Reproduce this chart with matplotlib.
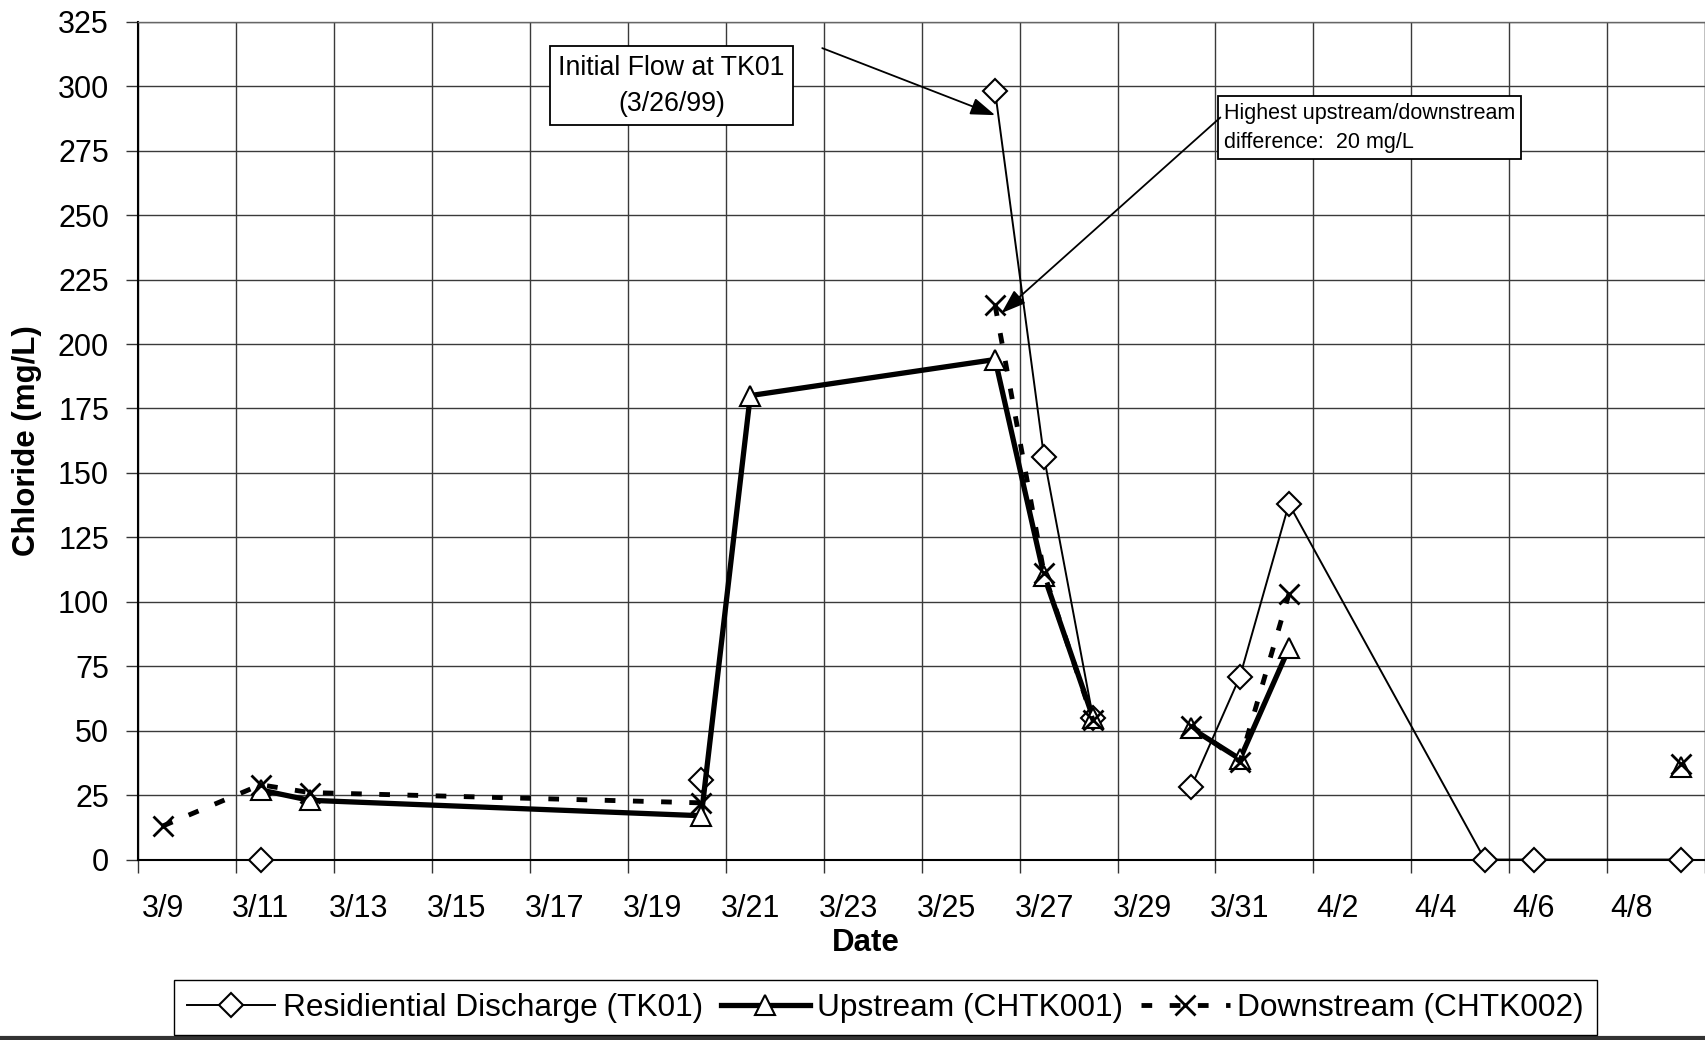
import numpy as np
import matplotlib.pyplot as plt
from matplotlib.lines import Line2D

plt.rcParams['font.family'] = ['Liberation Sans', 'DejaVu Sans']

# sampling dates (1999) and chloride results in mg/L, nan = no sample that day
dates = np.array(['1999-03-09', '1999-03-11', '1999-03-12', '1999-03-20', '1999-03-21',
                  '1999-03-26', '1999-03-27', '1999-03-28', '1999-03-29', '1999-03-30',
                  '1999-03-31', '1999-04-01', '1999-04-05', '1999-04-06', '1999-04-09'],
                 dtype='datetime64[D]')
nan = np.nan
tk01 = [nan, 0, nan, 31, nan, 298, 156, 55, nan, 28, 71, 138, 0, 0, 0]
upstream = [nan, 27, 23, 17, 180, 194, 110, 55, nan, 51, 39, 82, nan, nan, 36]
downstream = [13, 29, 26, 22, nan, 215, 111, 54, nan, 52, 38, 103, nan, nan, 37]

date_labels = ['3/9', '3/11', '3/13', '3/15', '3/17', '3/19', '3/21', '3/23',
               '3/25', '3/27', '3/29', '3/31', '4/2', '4/4', '4/6', '4/8']

start = np.datetime64('1999-03-09')
ndays = 32
x = (dates - start).astype(int) + 0.5   # each day is one slot, points sit mid-slot

fig = plt.figure(figsize=(17.06, 10.40), dpi=100)
ax = fig.add_axes([0.081, 0.1735, 0.9185, 0.8055])

ax.plot(x, tk01, color='black', lw=1.4, marker='D', ms=12.5, mfc='white',
        mec='black', mew=1.5, label='Residiential Discharge (TK01)', zorder=3,
        clip_on=False)
ax.plot(x, upstream, color='black', lw=3.8, marker='^', ms=15, mfc='white',
        mec='black', mew=1.5, label='Upstream (CHTK001)', zorder=4, clip_on=False)
ax.plot(x, downstream, color='black', lw=3.5, ls=(0, (2.2, 3.6)), marker='x', ms=15,
        mec='black', mew=2, label='Downstream (CHTK002)', zorder=5, clip_on=False)

ax.set_xlim(0, ndays)
ax.set_ylim(0, 325)
ax.set_yticks(np.arange(0, 326, 25))
ax.set_xticks(np.arange(0, ndays + 1, 2))
ax.set_xticklabels([])
ax.set_xticks(np.arange(0.5, ndays, 2), minor=True)
ax.set_xticklabels(date_labels, minor=True)
ax.tick_params(which='major', direction='out', length=9, width=1, color='#333333',
               labelsize=22, pad=12)
ax.tick_params(axis='x', which='minor', length=0, pad=25, labelsize=22)
ax.grid(True, which='major', color='#3a3a3a', lw=1)
ax.set_axisbelow(True)

for side in ['left', 'bottom']:
    ax.spines[side].set_linewidth(1.5)
for side in ['top', 'right']:
    ax.spines[side].set_color('#666666')
    ax.spines[side].set_linewidth(1)

fig.text(0.0158, 0.576, 'Chloride (mg/L)', rotation=90, ha='center', va='center',
         fontsize=22.5, fontweight='bold')
fig.text(0.5076, 0.093, 'Date', ha='center', va='center', fontsize=22.5,
         fontweight='bold')

# callouts
ax.text(10.89, 300.3, 'Initial Flow at TK01\n(3/26/99)', ha='center', va='center',
        fontsize=19.3, linespacing=1.5,
        bbox=dict(boxstyle='square,pad=0.3', fc='white', ec='black', lw=1.3), zorder=6)
ax.annotate('', xy=(17.5, 288.8), xytext=(13.97, 314.8),
            arrowprops=dict(arrowstyle='-|>,head_length=1.0,head_width=0.35',
                            mutation_scale=15, color='black', lw=1.3,
                            shrinkA=0, shrinkB=0), zorder=6)

ax.text(22.17, 284.0, 'Highest upstream/downstream\ndifference:  20 mg/L', ha='left',
        va='center', fontsize=15.5, linespacing=1.5,
        bbox=dict(boxstyle='square,pad=0.28', fc='white', ec='black', lw=1.3), zorder=6)
ax.annotate('', xy=(17.63, 212.0), xytext=(22.1, 287.9),
            arrowprops=dict(arrowstyle='-|>,head_length=1.0,head_width=0.35',
                            mutation_scale=15, color='black', lw=1.3,
                            shrinkA=0, shrinkB=0), zorder=6)

fig.legend(loc='center', bbox_to_anchor=(0.519, 0.031), ncol=3, fontsize=22.8,
           frameon=True, fancybox=False, edgecolor='black', framealpha=1,
           handlelength=2.8, handletextpad=0.25, columnspacing=0.55, borderpad=0.4,
           borderaxespad=0)

fig.add_artist(Line2D([0, 1], [0.002, 0.002], color='#333333', lw=3,
                      transform=fig.transFigure))

fig.savefig('out.png', dpi=100)
